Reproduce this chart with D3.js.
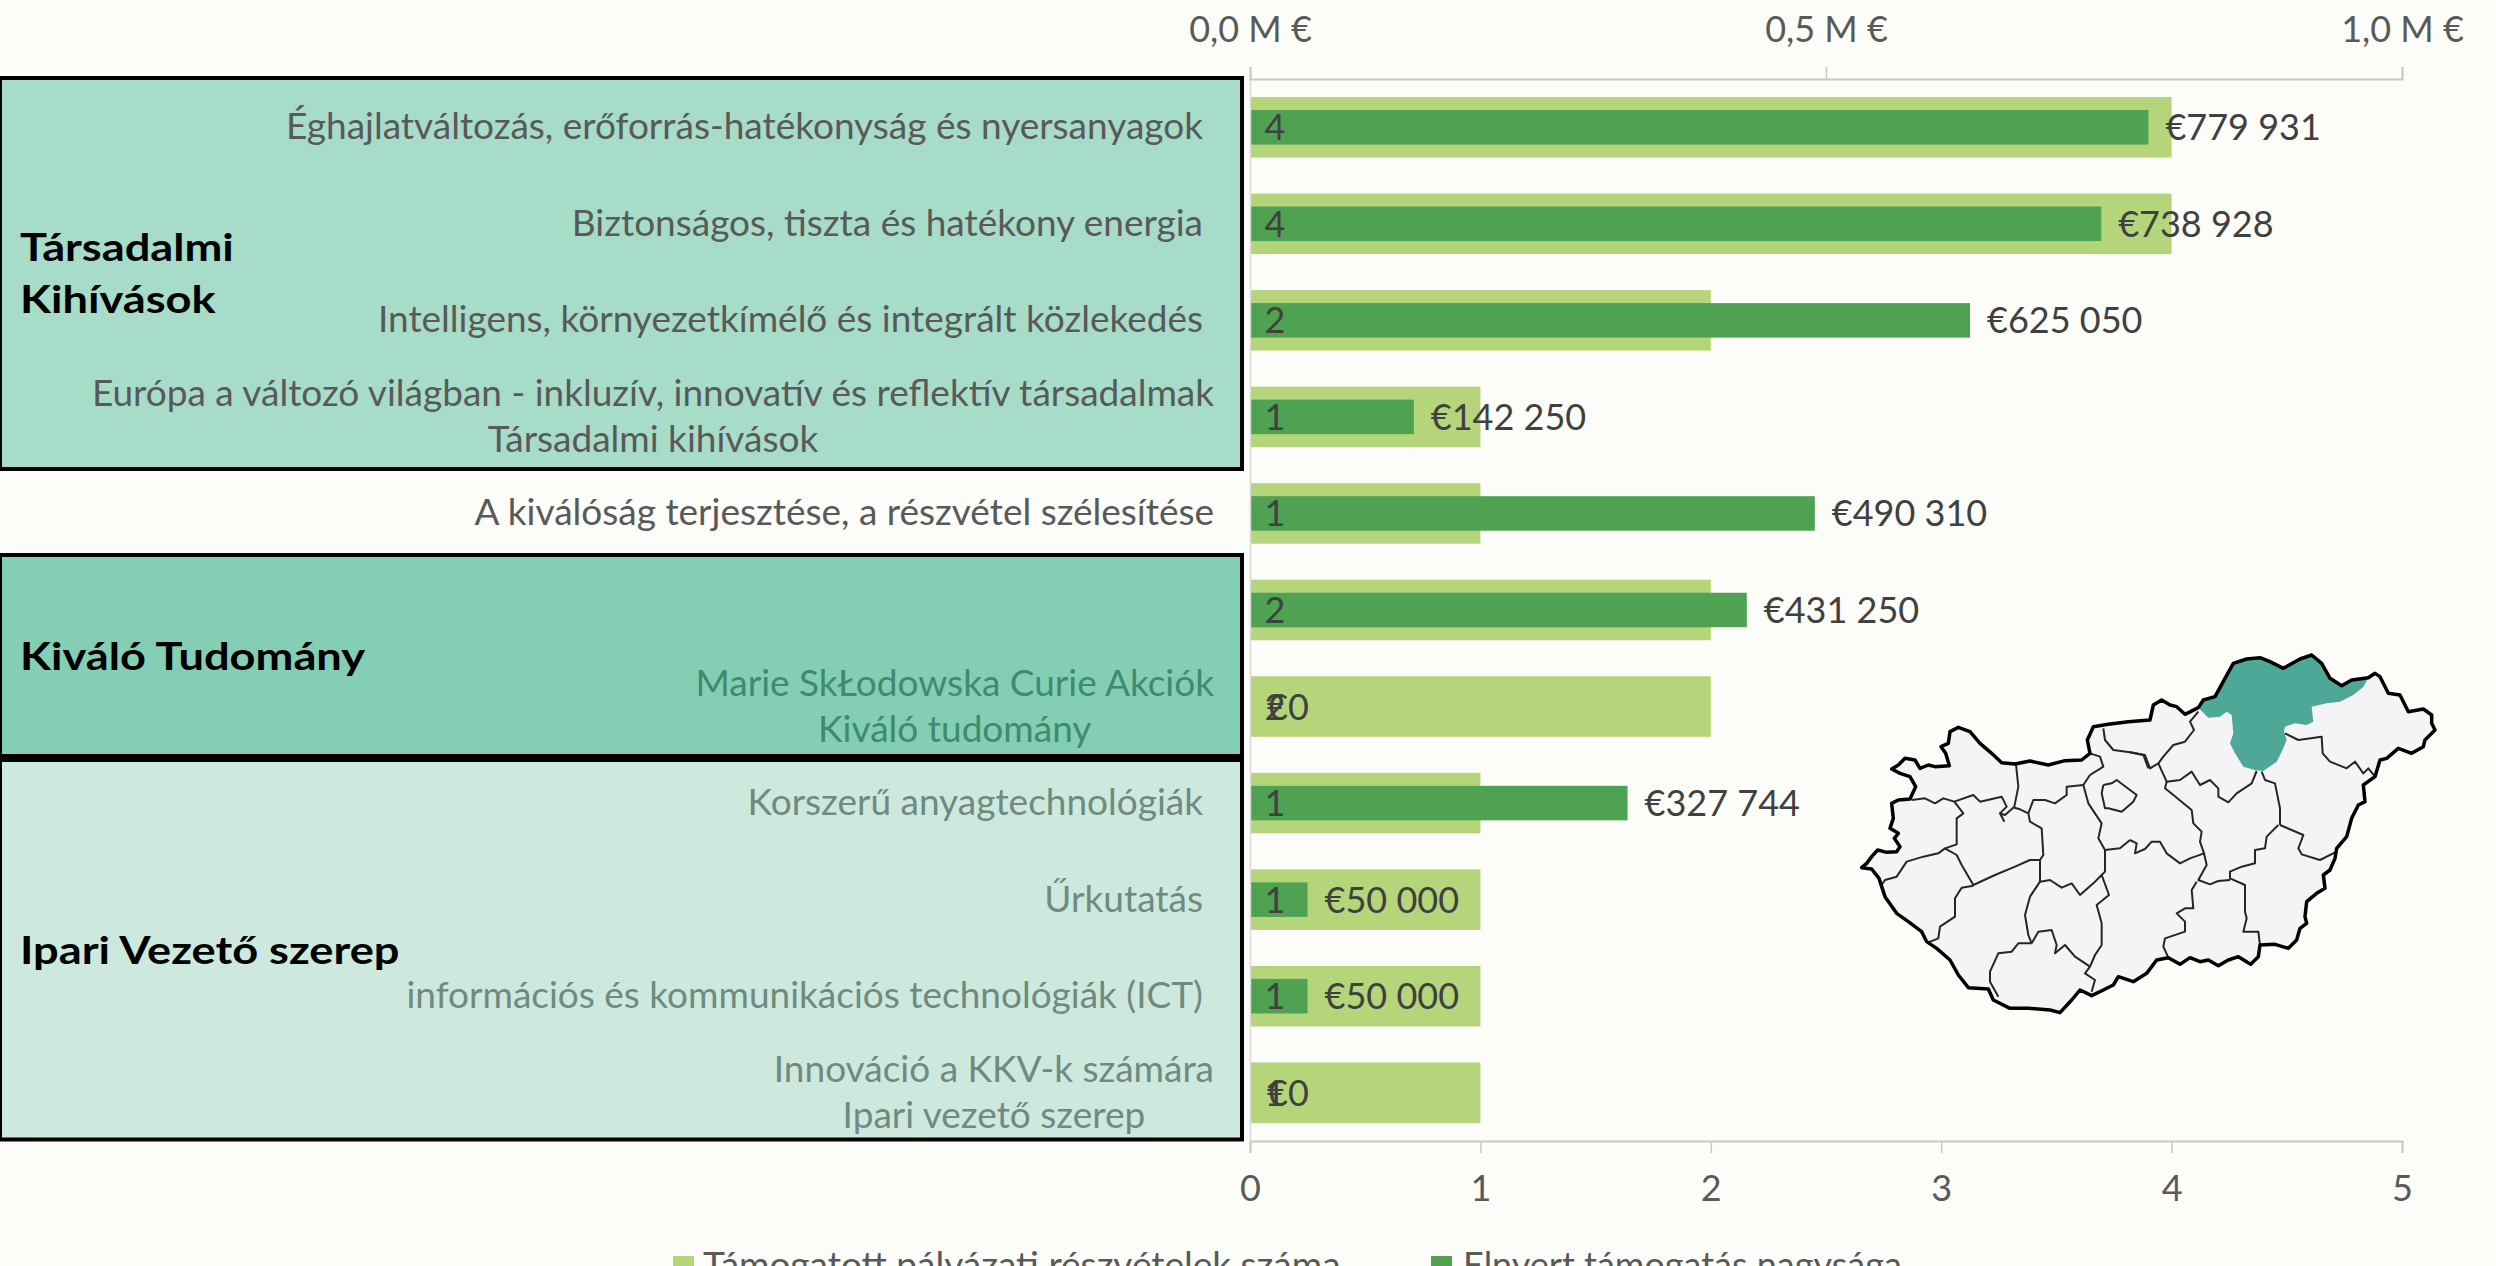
<!DOCTYPE html>
<html>
<head>
<meta charset="utf-8">
<script src="https://cdn.jsdelivr.net/npm/d3@7"></script>
<style>
  html, body { margin: 0; padding: 0; background: #fcfdf8; overflow: hidden; }
  text { font-family: Lato, "Open Sans", sans-serif; }
</style>
</head>
<body>
<div id="viz"></div>
<script>
// one row per category, second line is the parent label of the axis
const categories = [
  ['Éghajlatváltozás, erőforrás-hatékonyság és nyersanyagok'],
  ['Biztonságos, tiszta és hatékony energia'],
  ['Intelligens, környezetkímélő és integrált közlekedés'],
  ['Európa a változó világban - inkluzív, innovatív és reflektív társadalmak', 'Társadalmi kihívások'],
  ['A kiválóság terjesztése, a részvétel szélesítése'],
  [''],
  ['Marie SkŁodowska Curie Akciók', 'Kiváló tudomány'],
  ['Korszerű anyagtechnológiák'],
  ['Űrkutatás'],
  ['információs és kommunikációs technológiák (ICT)'],
  ['Innováció a KKV-k számára', 'Ipari vezető szerep']
];
const participations = [4, 4, 2, 1, 1, 2, 2, 1, 1, 1, 1];
const grants = [779931, 738928, 625050, 142250, 490310, 431250, 0, 327744, 50000, 50000, 0];
const moneyTicks = [0, 500000, 1000000];
const moneyTickLabels = ['0,0 M €', '0,5 M €', '1,0 M €'];
const countTicks = [0, 1, 2, 3, 4, 5];
const legendLabels = ['Támogatott pályázati részvételek száma', 'Elnyert támogatás nagysága'];

const fromWest = pts => pts.map(([a, b]) => [a, b + 210]);
const fromEast = pts => pts.map(([a, b]) => [a + 825, b]);

const mapBorder = [].concat(
  fromWest([[20,458],[35,445],[50,425],[68,405],[95,412],[125,410],[135,395],[118,370],[130,355],[105,340],[115,310],[110,265],[130,255],[165,252],[182,215],[165,185],[135,175],[110,162],[130,150],[150,130],[180,135],[195,160],[220,150],[240,155],[283,152],[272,115],[258,95],[280,85],[285,50],[310,37],[345,50],[375,85],[410,115],[440,143],[480,147],[525,138],[580,150],[630,137],[680,135],[705,115],[697,75],[715,35],[760,28],[820,20]]),
  fromEast([[60,225],[70,180],[95,165],[120,180],[140,185],[165,208],[205,188],[220,165],[255,155],[285,100],[310,55],[350,42],[390,38],[420,50],[460,70],[510,42],[545,30],[575,55],[600,100],[635,122],[665,105],[715,98],[735,85],[750,95],[775,145],[810,150],[835,200],[880,192],[905,210],[905,235],[915,255],[885,285],[880,305],[845,325],[805,310],[770,340],[750,345],[735,395],[700,420],[705,470],[685,480],[665,520],[650,575],[620,610],[615,640],[600,675],[580,690],[585,730],[560,745],[530,770],[525,815],[530,835],[510,850],[500,885],[475,910],[435,898],[390,900],[385,935],[362,958],[325,935],[295,945],[265,962],[235,945],[210,950],[180,938],[150,958],[115,938],[80,945],[50,985],[10,1010]]),
  fromWest([[790,785],[775,810],[745,825],[710,842],[675,825],[650,855],[615,893],[585,885],[520,880],[465,880],[415,855],[400,822],[340,818],[310,780],[285,735],[245,700],[215,680],[200,650],[160,620],[125,595],[90,545],[72,490],[50,462]])
);
const mapRegion = fromEast([[205,188],[220,165],[255,155],[285,100],[310,55],[350,42],[390,38],[420,50],[460,70],[510,42],[545,30],[575,55],[600,100],[635,122],[665,105],[715,98],[700,125],[670,150],[630,170],[590,175],[545,185],[550,230],[530,240],[495,235],[465,245],[462,260],[470,285],[455,320],[440,350],[400,378],[375,375],[340,365],[315,325],[300,295],[310,265],[305,210],[290,200],[270,215],[235,218]]);
const mapCountiesEast = [
  [[205,200],[180,230],[192,255],[165,290],[130,300],[100,335],[85,355],[60,370],[45,330],[0,322]],
  [[380,378],[365,415],[320,445],[295,472],[265,455],[265,430],[240,405],[210,420],[185,380],[150,405],[110,410],[85,355]],
  [[110,410],[105,430],[130,450],[185,495],[190,535],[215,560],[210,590],[222,625]],
  [[395,380],[405,405],[435,415],[450,490],[450,540]],
  [[465,265],[505,285],[575,275],[578,325],[600,350],[650,370],[675,350],[700,385],[715,370],[735,395]],
  [[450,540],[520,570],[505,610],[515,628],[570,645],[620,620]],
  [[445,540],[410,575],[405,610],[375,615],[375,655],[335,665],[300,680],[300,700],[345,720],[345,800],[350,820],[340,860],[385,860],[390,900]],
  [[300,705],[265,708],[240,718],[205,705],[230,660],[222,625],[180,640],[150,655],[110,625],[90,590],[65,590],[45,612],[15,625],[20,595],[0,585]],
  [[200,710],[185,735],[190,790],[165,790],[140,805],[165,830],[165,860],[105,880],[100,905],[115,938]]
];
const mapCountiesWest = [
  [[705,115],[735,125],[745,155],[705,180],[685,210],[700,265],[740,325],[730,370],[750,405],[750,470],[740,480],[762,540],[725,570],[740,625],[740,690],[720,720],[705,755],[690,775],[720,795],[710,830]],
  [[685,210],[635,215],[635,240],[600,265],[570,255],[535,255],[520,295]],
  [[745,40],[750,75],[775,105],[825,112],[865,120],[880,160]],
  [[825,375],[795,400],[750,405]],
  [[483,148],[490,215],[478,275],[450,300],[435,295],[448,320]],
  [[478,278],[495,283],[520,295]],
  [[520,295],[525,320],[560,340],[565,420],[555,435],[555,500]],
  [[170,255],[210,250],[240,265],[265,250],[298,260],[355,240],[375,260],[440,245],[455,275],[435,295]],
  [[298,260],[325,295],[305,310],[305,388],[270,400],[305,420],[320,450],[355,510],[420,480],[480,455],[525,435],[555,435]],
  [[270,400],[250,415],[205,425],[155,440],[125,485],[90,495],[80,510]],
  [[355,512],[320,518],[300,550],[300,605],[255,635],[250,670],[220,682]],
  [[555,500],[585,495],[620,518],[650,505],[675,540],[715,505],[740,480]],
  [[555,500],[525,545],[510,600],[520,660],[530,685]],
  [[530,685],[550,650],[590,645],[605,690],[600,715],[630,690],[660,725],[705,755]],
  [[530,685],[490,685],[470,710],[430,715],[405,770],[405,800],[430,845]],
  [[745,210],[770,205],[785,195],[845,240],[835,260],[800,290],[760,280],[750,280],[740,235],[745,210]]
];

const width = 2496;
const height = 1266;

const svg = d3.select('#viz')
  .append('svg')
  .attr('width', width)
  .attr('height', height)
  .style('display', 'block');

const rows = d3.range(categories.length);
const x = d3.scaleLinear().domain([0, 5]).range([1250, 2402]);
const xMoney = d3.scaleLinear().domain([0, 1000000]).range([1250, 2402]);
const y = d3.scaleBand().domain(rows).range([79, 1141]).paddingInner(0.373).paddingOuter(0.1865);
const money = d3.formatLocale({ decimal: ',', thousands: ' ', grouping: [3], currency: ['€', ''] }).format('$,');

// coloured group boxes behind the labels
function panel(top, bottom, color) {
  svg.append('rect')
    .attr('x', 0)
    .attr('y', top)
    .attr('width', 1242)
    .attr('height', bottom - top)
    .attr('fill', color)
    .attr('stroke', '#000')
    .attr('stroke-width', 4);
}
panel(78, 469, '#a7dcc9');
panel(555, 756, '#84ceb4');
panel(760, 1139.5, '#cde9de');

const labelColor = [0, 1, 2, 3, 4, 5].map(() => '#595959').concat(['#3f8a70', '#6f8a80', '#6f8a80', '#6f8a80', '#6f8a80']);

const labels = svg.append('g').attr('font-size', 37);
rows.forEach(i => {
  const lines = categories[i];
  const c = y(i) + y.bandwidth() / 2;
  const inset = (lines.length > 1 || i === 4) ? 0 : 11;
  const first = labels.append('text')
    .attr('x', 1214 - inset)
    .attr('y', lines.length > 1 ? c - 11 : c + 12)
    .attr('text-anchor', 'end')
    .attr('fill', labelColor[i])
    .text(lines[0]);
  if (lines.length > 1) {
    const w = first.node().getComputedTextLength();
    labels.append('text')
      .attr('x', 1214 - w / 2)
      .attr('y', c + 35.5)
      .attr('text-anchor', 'middle')
      .attr('fill', labelColor[i])
      .text(lines[1]);
  }
});

// the titles run wider than Lato bold at this height, so stretch them a bit
const groupTitles = svg.append('g')
  .attr('transform', 'translate(20 0) scale(1.19 1)')
  .attr('font-size', 38)
  .attr('font-weight', 700)
  .attr('fill', '#000');
groupTitles.append('text').attr('y', 261).text('Társadalmi');
groupTitles.append('text').attr('y', 313.5).text('Kihívások');
groupTitles.append('text').attr('y', 670).text('Kiváló Tudomány');
groupTitles.append('text').attr('y', 964).text('Ipari Vezető szerep');

svg.append('g').selectAll('rect')
  .data(participations)
  .join('rect')
  .attr('x', x(0))
  .attr('y', (d, i) => y(i))
  .attr('width', d => x(d) - x(0))
  .attr('height', y.bandwidth())
  .attr('fill', '#b5d57b');

svg.append('g').selectAll('rect')
  .data(grants)
  .join('rect')
  .attr('x', xMoney(0))
  .attr('y', (d, i) => y(i) + 13)
  .attr('width', d => xMoney(d) - xMoney(0))
  .attr('height', y.bandwidth() - 26)
  .attr('fill', '#4ea252');

svg.append('g').selectAll('text')
  .data(participations)
  .join('text')
  .attr('x', x(0) + 25)
  .attr('y', (d, i) => y(i) + y.bandwidth() / 2 + 13)
  .attr('text-anchor', 'middle')
  .attr('font-size', 36)
  .attr('fill', '#404040')
  .text(d => d);

svg.append('g').selectAll('text')
  .data(grants)
  .join('text')
  .attr('x', d => xMoney(d) + 17)
  .attr('y', (d, i) => y(i) + y.bandwidth() / 2 + 13)
  .attr('font-size', 36)
  .attr('fill', '#404040')
  .text(d => money(d));

// axes
function styleAxis(g) {
  g.selectAll('path').attr('stroke', '#c8c8c8').attr('stroke-width', 2);
  g.selectAll('line').attr('stroke', '#c8c8c8').attr('stroke-width', 1.5);
  g.selectAll('text').attr('font-size', 36).attr('fill', '#595959').attr('font-family', 'Lato');
}
svg.append('g')
  .attr('transform', 'translate(1250 0)')
  .call(d3.axisLeft(y).tickSize(0).tickFormat(''))
  .call(g => g.selectAll('path').attr('stroke', '#d9d9d9').attr('stroke-width', 1.5));
svg.append('g')
  .attr('transform', 'translate(0 79)')
  .call(d3.axisTop(xMoney).tickValues(moneyTicks).tickFormat((d, i) => moneyTickLabels[i]).tickSize(12).tickPadding(25))
  .call(styleAxis);
svg.append('g')
  .attr('transform', 'translate(0 1141)')
  .call(d3.axisBottom(x).tickValues(countTicks).tickFormat(d => d).tickSize(12).tickPadding(22))
  .call(styleAxis);

// legend, cut off by the bottom edge as in the source picture
const legend = svg.append('g').attr('fill', '#595959');
legend.append('rect').attr('x', 673).attr('y', 1256).attr('width', 21).attr('height', 21).attr('fill', '#b5d57b');
legend.append('text').attr('x', 703).attr('y', 1278).attr('font-size', 37).text(legendLabels[0]);
legend.append('rect').attr('x', 1431).attr('y', 1256).attr('width', 21).attr('height', 21).attr('fill', '#4ea252');
legend.append('text').attr('x', 1463).attr('y', 1278).attr('font-size', 36).text(legendLabels[1]);

// map inset, traced grid is 3x the page pixels
const mapX = d3.scaleLinear().domain([0, 3]).range([1855, 1856]);
const mapY = d3.scaleLinear().domain([0, 3]).range([645, 646]);
const mapLine = d3.line().x(d => mapX(d[0])).y(d => mapY(d[1]));
const mapCounties = mapCountiesWest.map(fromWest).concat(mapCountiesEast.map(fromEast));
const map = svg.append('g').attr('fill', 'none').attr('stroke-linejoin', 'round');
map.append('path').attr('d', mapLine(mapBorder) + 'Z').attr('fill', '#f4f3f5');
map.append('path').attr('d', mapLine(mapRegion) + 'Z').attr('fill', '#4da897');
map.selectAll('.county')
  .data(mapCounties)
  .join('path')
  .attr('class', 'county')
  .attr('d', mapLine)
  .attr('stroke', '#262626')
  .attr('stroke-width', 2);
map.append('path').attr('d', mapLine(mapBorder) + 'Z').attr('stroke', '#000').attr('stroke-width', 3.5);
</script>
</body>
</html>
